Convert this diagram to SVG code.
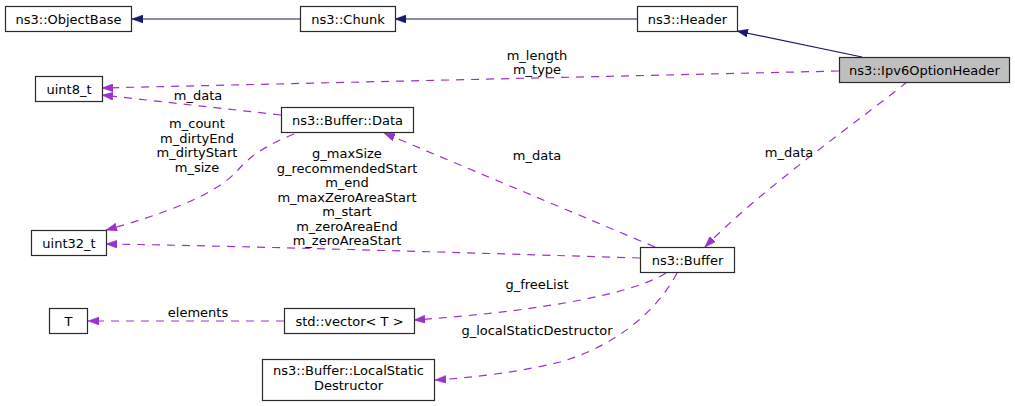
<svg xmlns="http://www.w3.org/2000/svg" width="1015" height="406" viewBox="0 0 1015 406">
<style>
  .node rect { fill: #ffffff; stroke: #2a2a2a; stroke-width: 1.2; }
  .node.cur rect { fill: #bfbfbf; }
  text { font-family: "DejaVu Sans", "Liberation Sans", sans-serif; font-size: 13px; fill: #000000; text-anchor: middle; }
  .inh { fill: none; stroke: #191970; stroke-width: 1.2; marker-end: url(#ah-navy); }
  .use { fill: none; stroke: #9a32cd; stroke-width: 1.2; stroke-dasharray: 8,7; marker-end: url(#ah-purple); }
</style>
<defs>
  <marker id="ah-navy" markerUnits="userSpaceOnUse" viewBox="0 0 11 8" refX="11" refY="4" markerWidth="11" markerHeight="8" orient="auto">
    <path d="M0,0 L11,4 L0,8 Z" fill="#191970" stroke="#191970" stroke-width="0.5"/>
  </marker>
  <marker id="ah-purple" markerUnits="userSpaceOnUse" viewBox="0 0 11 8" refX="11" refY="4" markerWidth="11" markerHeight="8" orient="auto">
    <path d="M0,0 L11,4 L0,8 Z" fill="#9a32cd" stroke="#9a32cd" stroke-width="0.5"/>
  </marker>
</defs>
<rect x="0" y="0" width="1015" height="406" fill="#ffffff"/>

<g id="connectors">
  <path class="inh" d="M300,19 L132,19"/>
  <path class="inh" d="M637,19 L395,19"/>
  <path class="inh" d="M862,57 L737,31"/>

  <path class="use" d="M839,71 L102,88"/>
  <text x="537" y="60">m_length</text>
  <text x="537" y="74">m_type</text>

  <path class="use" d="M281,115 L102,95"/>
  <text x="198" y="100">m_data</text>

  <path class="use" d="M294,134 C265,146 250,156 238,170 C215,196 160,215 106,230"/>
  <text x="197" y="128">m_count</text>
  <text x="197" y="143">m_dirtyEnd</text>
  <text x="197" y="157">m_dirtyStart</text>
  <text x="197" y="172">m_size</text>

  <path class="use" d="M655,247 L384,133"/>
  <text x="537" y="160">m_data</text>

  <path class="use" d="M640,258 C540,255 250,246 106,244"/>
  <text x="347" y="158">g_maxSize</text>
  <text x="347" y="172.5">g_recommendedStart</text>
  <text x="347" y="187">m_end</text>
  <text x="347" y="201.5">m_maxZeroAreaStart</text>
  <text x="347" y="216">m_start</text>
  <text x="347" y="230.5">m_zeroAreaEnd</text>
  <text x="347" y="245">m_zeroAreaStart</text>

  <path class="use" d="M907,82 C860,120 760,190 705,247"/>
  <text x="789" y="157">m_data</text>

  <path class="use" d="M666,273 C640,290 560,310 414,320"/>
  <text x="537" y="289">g_freeList</text>

  <path class="use" d="M284,321 L88,321"/>
  <text x="198" y="317">elements</text>

  <path class="use" d="M677,273 C655,315 610,348 560,362 C520,372 470,378 435,380"/>
  <text x="537" y="335">g_localStaticDestructor</text>
</g>

<g id="node-objectbase" class="node">
  <rect x="5.5" y="6.5" width="126" height="25"/>
  <text x="68.5" y="23.5">ns3::ObjectBase</text>
</g>
<g id="node-chunk" class="node">
  <rect x="300.5" y="6.5" width="95" height="25"/>
  <text x="348" y="23.5">ns3::Chunk</text>
</g>
<g id="node-header" class="node">
  <rect x="637.5" y="6.5" width="100" height="25"/>
  <text x="687.5" y="23.5">ns3::Header</text>
</g>
<g id="node-ipv6optionheader" class="node cur">
  <rect x="839.5" y="57.5" width="170" height="25"/>
  <text x="924.5" y="74.5">ns3::Ipv6OptionHeader</text>
</g>
<g id="node-uint8" class="node">
  <rect x="35.5" y="76.5" width="67" height="25"/>
  <text x="69" y="93.5">uint8_t</text>
</g>
<g id="node-bufferdata" class="node">
  <rect x="281.5" y="107.5" width="132" height="25"/>
  <text x="347.5" y="124.5">ns3::Buffer::Data</text>
</g>
<g id="node-uint32" class="node">
  <rect x="31.5" y="230.5" width="75" height="25"/>
  <text x="69" y="247.5">uint32_t</text>
</g>
<g id="node-buffer" class="node">
  <rect x="640.5" y="247.5" width="94" height="25"/>
  <text x="687.5" y="264.5">ns3::Buffer</text>
</g>
<g id="node-t" class="node">
  <rect x="49.5" y="308.5" width="38" height="25"/>
  <text x="68.5" y="325.5">T</text>
</g>
<g id="node-vector" class="node">
  <rect x="284.5" y="308.5" width="130" height="25"/>
  <text x="349.5" y="325.5">std::vector&lt; T &gt;</text>
</g>
<g id="node-localstaticdestructor" class="node">
  <rect x="262.5" y="359.5" width="172" height="41"/>
  <text x="348.5" y="375">ns3::Buffer::LocalStatic</text>
  <text x="348.5" y="390">Destructor</text>
</g>
</svg>
